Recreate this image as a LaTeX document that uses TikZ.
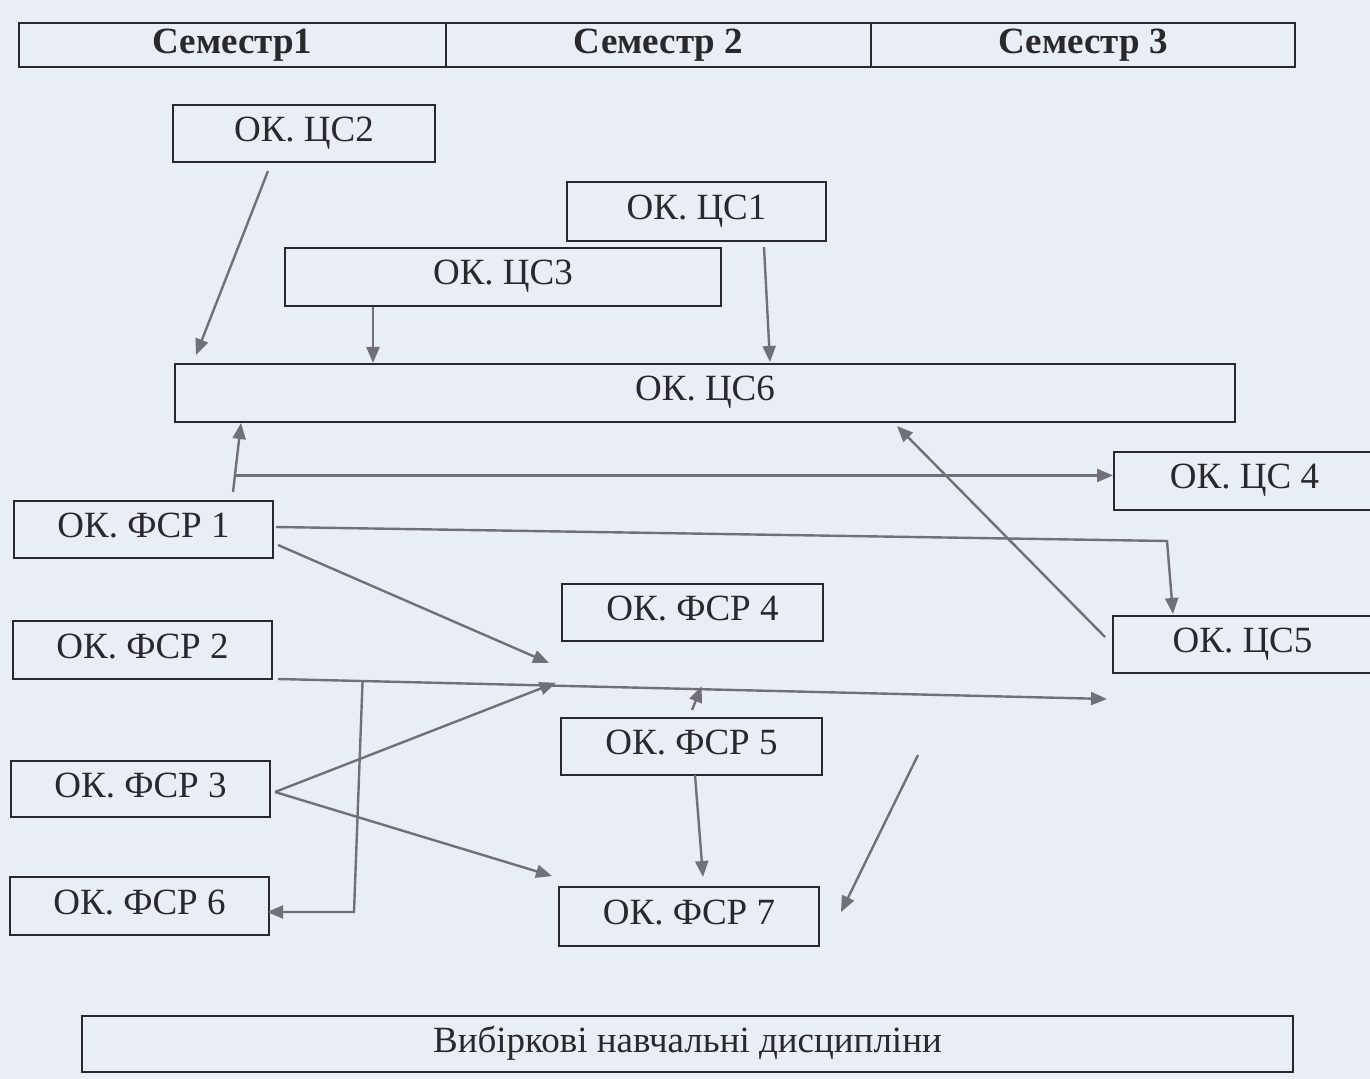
\documentclass[tikz,border=0pt]{standalone}
\usepackage{fontspec}
\setmainfont{Liberation Serif}
\usetikzlibrary{arrows.meta,calc}
\definecolor{bg}{RGB}{233,237,246}
\definecolor{ink}{RGB}{40,40,45}
\definecolor{wire}{RGB}{112,112,120}
\begin{document}
\begin{tikzpicture}[x=0.5pt,y=-0.5pt,
  box/.style={draw=ink,line width=1pt,text=ink,minimum width=130pt,minimum height=29pt,inner sep=0pt,text height=13pt,text depth=5pt,font=\fontsize{18.5pt}{22pt}\selectfont},
  hdr/.style={draw=ink,line width=1pt,text=ink,inner sep=0pt,font=\fontsize{18.5pt}{22pt}\selectfont\bfseries,minimum height=22pt},
  arr/.style={draw=wire,line width=1.2pt,-{Triangle[length=8pt,width=6.5pt]}}]
\fill[bg] (0,0) rectangle (1370,1079);
\useasboundingbox (0,0) rectangle (1370,1079);
% header
\node[hdr,minimum width=213.5pt] (h1) at (232.5,45) {Семестр1};
\node[hdr,minimum width=212.5pt] (h2) at (658.5,45) {Семестр 2};
\node[hdr,minimum width=212pt] (h3) at (1083,45) {Семестр 3};
% boxes
\node[box,minimum width=131pt,minimum height=28.5pt] (cs2) at (304,133.5) {ОК. ЦС2};
\node[box,minimum width=129.5pt,minimum height=29.5pt] (cs1) at (696.5,211.5) {ОК. ЦС1};
\node[box,minimum width=218pt] (cs3) at (503,277) {ОК. ЦС3};
\node[box,minimum width=530pt] (cs6) at (705,393) {ОК. ЦС6};
\node[box,minimum width=130.5pt] (cs4) at (1244.5,481) {ОК. ЦС 4};
\node[box,minimum width=129.5pt,minimum height=28.5pt] (cs5) at (1242.5,644.5) {ОК. ЦС5};
\node[box,minimum width=129.5pt,minimum height=28.5pt] (f1) at (143.5,529.5) {ОК. ФСР 1};
\node[box,minimum width=129.5pt] (f2) at (142.5,650) {ОК. ФСР 2};
\node[box,minimum width=129.5pt,minimum height=28pt] (f3) at (140.5,789) {ОК. ФСР 3};
\node[box,minimum width=129.5pt] (f6) at (139.5,906) {ОК. ФСР 6};
\node[box,minimum width=130.5pt,minimum height=28.5pt] (f4) at (692.5,612.5) {ОК. ФСР 4};
\node[box,minimum width=130.5pt,minimum height=28.5pt] (f5) at (691.5,746.5) {ОК. ФСР 5};
\node[box,minimum width=130pt,minimum height=29.5pt] (f7) at (689,916.5) {ОК. ФСР 7};
\node[box,minimum width=605.5pt,minimum height=28pt] (vyb) at (687.5,1044) {Вибіркові навчальні дисципліни};
% connectors
\draw[arr] ([shift={(-36,8)}]cs2.south) -- ([shift={(22,-8)}]cs6.north west);
\coordinate (a2s) at ([shift={(-130,0)}]cs3.south);
\draw[arr] (a2s) -- (a2s |- cs6.north);
\draw[arr] ([shift={(67.5,5)}]cs1.south) -- ([shift={(65,-1)}]cs6.north);
\coordinate (a4s) at ([shift={(89.5,-8)}]f1.north);
\coordinate (a4e) at ([shift={(67,0)}]cs6.south west);
\draw[arr] (a4s) -- (a4e);
\coordinate (j1) at ($(a4s)!0.24!(a4e)$);
\draw[arr] (j1) -- (j1 -| cs4.west);
\draw[arr] ([shift={(2,-2.5)}]f1.east) -- ([shift={(-75.5,-74)}]cs5.north) -- ([shift={(-69.5,-1)}]cs5.north);
\coordinate (hub1) at ([shift={(-12,21)}]f4.south west);
\draw[arr] ([shift={(4,15.5)}]f1.east) -- (hub1);
\coordinate (a7s) at ([shift={(5,-1)}]f2.south east);
\coordinate (a7e) at ([shift={(-5,25)}]cs5.south west);
\draw[arr] (a7s) -- (a7e);
\coordinate (j2) at ($(a7s)!0.102!(a7e)$);
\coordinate (f6in) at ([shift={(-3,6)}]f6.east);
\draw[arr] (j2) -- ($(f6in)+(87,0)$) -- (f6in);
\coordinate (hub2) at ($(a7s)!0.335!(a7e)+(0,-3)$);
\draw[arr] ([shift={(4,3)}]f3.east) -- (hub2);
\draw[arr] ([shift={(4,3)}]f3.east) -- ([shift={(-6,-10)}]f7.north west);
\coordinate (hub3) at ($(a7s)!0.511!(a7e)+(0,-3)$);
\draw[arr] ([shift={(0.5,-7)}]f5.north) -- (hub3);
\draw[arr] ([shift={(3.5,-1)}]f5.south) -- ([shift={(14,-9)}]f7.north);
\coordinate (free) at (918,755);
\draw[arr] (free) -- ([shift={(21,-4.5)}]f7.east);
\draw[arr] ([shift={(-7,-7.5)}]cs5.west) -- ([shift={(192,3)}]cs6.south);
\end{tikzpicture}
\end{document}
